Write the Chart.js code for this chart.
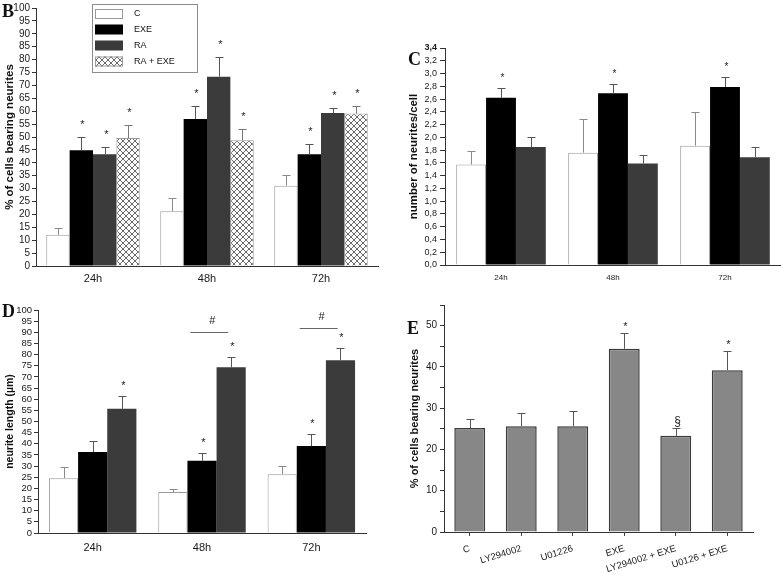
<!DOCTYPE html>
<html>
<head>
<meta charset="utf-8">
<script src="https://cdn.jsdelivr.net/npm/chart.js@4/dist/chart.umd.min.js"></script>
<style>
html,body{margin:0;padding:0;background:#fff;}
#wrap{position:relative;width:781px;height:574px;overflow:hidden;background:#fff;}
canvas{position:absolute;}
.pl{position:absolute;font-family:"Liberation Serif","Times New Roman",serif;font-weight:bold;font-size:18px;line-height:18px;color:#111;}
</style>
</head>
<body>
<div id="wrap">
  <canvas id="cB" style="left:0;top:0" width="390" height="290"></canvas>
  <canvas id="cC" style="left:390px;top:0" width="391" height="290"></canvas>
  <canvas id="cD" style="left:0;top:290px" width="390" height="284"></canvas>
  <canvas id="cE" style="left:390px;top:290px" width="391" height="284"></canvas>
  <div class="pl" style="left:2px;top:2px">B</div>
  <div class="pl" style="left:408px;top:50px">C</div>
  <div class="pl" style="left:2px;top:302px">D</div>
  <div class="pl" style="left:407px;top:319px">E</div>
</div>
<script>
// ---------------- DATA ----------------
// Panel B: % of cells bearing neurites
const bCategories = ['24h', '48h', '72h'];
const bSeriesNames = ['C', 'EXE', 'RA', 'RA + EXE'];
const bC = [12.1, 21.2, 31.1];
const bCErr = [2.7, 5.0, 4.1];
const bEXE = [44.9, 57.0, 43.3];
const bEXEErr = [5.0, 5.1, 3.8];
const bRA = [43.3, 73.4, 59.3];
const bRAErr = [3.0, 7.7, 2.1];
const bRAEXE = [49.6, 48.7, 59.1];
const bRAEXEErr = [5.2, 4.4, 3.0];
const bCMarks = ['', '', ''];
const bEXEMarks = ['*', '*', '*'];
const bRAMarks = ['*', '*', '*'];
const bRAEXEMarks = ['*', '*', '*'];
const bYMax = 100, bYStep = 5;

// Panel C: number of neurites/cell
const cCategories = ['24h', '48h', '72h'];
const cC = [1.575, 1.76, 1.87];
const cCErr = [0.215, 0.52, 0.52];
const cEXE = [2.62, 2.69, 2.79];
const cEXEErr = [0.16, 0.14, 0.15];
const cRA = [1.85, 1.59, 1.69];
const cRAErr = [0.16, 0.14, 0.16];
const cCMarks = ['', '', ''];
const cEXEMarks = ['*', '*', '*'];
const cRAMarks = ['', '', ''];
const cYMax = 3.4, cYStep = 0.2;

// Panel D: neurite length (µm)
const dCategories = ['24h', '48h', '72h'];
const dC = [24.6, 18.4, 26.4];
const dCErr = [5.0, 1.3, 3.6];
const dEXE = [36.3, 32.4, 39.0];
const dEXEErr = [4.9, 3.4, 5.3];
const dRA = [55.7, 74.3, 77.5];
const dRAErr = [5.6, 4.8, 5.6];
const dCMarks = ['', '', ''];
const dEXEMarks = ['', '*', '*'];
const dRAMarks = ['*', '*', '*'];
const dHashLevel = [null, 90.3, 91.8];
const dHashText = ['', '#', '#'];
const dYMax = 100, dYStep = 5;

// Panel E: % of cells bearing neurites (inhibitors)
const eCategories = ['C', 'LY294002', 'U01226', 'EXE', 'LY294002 + EXE', 'U0126 + EXE'];
const eValues = [25.2, 25.6, 25.6, 44.4, 23.3, 39.2];
const eErr = [2.2, 3.2, 3.6, 3.8, 1.8, 4.6];
const eMarks = ['', '', '', '*', '§', '*'];
const eYMax = 55, eYStep = 5, eYLabelEvery = 10;

// ---------------- STYLE / HELPERS ----------------
const FF = '"Liberation Sans", Arial, Helvetica, sans-serif';
Chart.defaults.font.family = FF;
Chart.defaults.color = '#111';

function hatch() {
  const s = 6;
  const c = document.createElement('canvas');
  c.width = s; c.height = s;
  const g = c.getContext('2d');
  g.fillStyle = '#fff'; g.fillRect(0, 0, s, s);
  g.strokeStyle = '#6a6a6a'; g.lineWidth = 1;
  g.beginPath();
  g.moveTo(-1, -1); g.lineTo(s + 1, s + 1);
  g.moveTo(s + 1, -1); g.lineTo(-1, s + 1);
  g.stroke();
  return g.createPattern(c, 'repeat');
}
const HATCH = hatch();

const errPlugin = {
  id: 'err',
  afterDatasetsDraw(chart, args, opts) {
    const ctx = chart.ctx, y = chart.scales.y;
    chart.data.datasets.forEach((ds, i) => {
      const meta = chart.getDatasetMeta(i);
      meta.data.forEach((bar, j) => {
        const v = ds.data[j];
        const e = ds.errors ? ds.errors[j] : 0;
        const top = Math.round(y.getPixelForValue(v + e));
        const x = Math.round(bar.x);
        ctx.save();
        ctx.strokeStyle = ds.errColor || '#555';
        ctx.lineWidth = 1;
        ctx.beginPath();
        ctx.moveTo(x + 0.5, bar.y);
        ctx.lineTo(x + 0.5, top);
        ctx.moveTo(x - opts.cap / 2, top + 0.5);
        ctx.lineTo(x + opts.cap / 2 + 1, top + 0.5);
        ctx.stroke();
        const m = ds.marks ? ds.marks[j] : '';
        if (m) {
          const fs = m === '*' ? opts.markFont : opts.symFont;
          const gap = m === '*' ? opts.markGap : opts.symGap;
          const cy = m === '*' ? 0.575 : 0.3;
          ctx.fillStyle = '#222';
          ctx.font = fs + 'px ' + FF;
          ctx.textAlign = 'center';
          ctx.textBaseline = 'alphabetic';
          ctx.fillText(m, x + 1.5, top - gap + cy * fs);
        }
        ctx.restore();
      });
    });
  }
};

const boxLegendPlugin = {
  id: 'boxLegend',
  afterDraw(chart, args, o) {
    if (!o || !o.show) return;
    const ctx = chart.ctx;
    ctx.save();
    ctx.strokeStyle = '#8c8c8c'; ctx.lineWidth = 1;
    ctx.strokeRect(o.x + 0.5, o.y + 0.5, o.w, o.h);
    chart.data.datasets.forEach((ds, i) => {
      const cy = o.rows[i];
      ctx.fillStyle = ds.backgroundColor;
      ctx.fillRect(o.sx, cy - 5, o.sw, 10);
      if (ds.borderWidth) {
        ctx.strokeStyle = ds.borderColor; ctx.lineWidth = 1;
        ctx.strokeRect(o.sx + 0.5, cy - 5 + 0.5, o.sw - 1, 9);
      }
      ctx.fillStyle = '#111';
      ctx.font = o.font + 'px ' + FF;
      ctx.textAlign = 'left'; ctx.textBaseline = 'middle';
      ctx.fillText(ds.label, o.tx, cy);
    });
    ctx.restore();
  }
};

const hashPlugin = {
  id: 'hash',
  afterDatasetsDraw(chart, args, o) {
    if (!o || !o.levels) return;
    const ctx = chart.ctx, y = chart.scales.y;
    const m1 = chart.getDatasetMeta(1), m2 = chart.getDatasetMeta(2);
    o.levels.forEach((lv, j) => {
      if (lv === null) return;
      const b1 = m1.data[j], b2 = m2.data[j];
      const x1 = b1.x - 0.4 * b1.width, x2 = b2.x - 0.1 * b2.width;
      const py = Math.round(y.getPixelForValue(lv)) + 0.5;
      ctx.save();
      ctx.strokeStyle = '#666'; ctx.lineWidth = 1;
      ctx.beginPath(); ctx.moveTo(x1, py); ctx.lineTo(x2, py); ctx.stroke();
      ctx.fillStyle = '#222';
      ctx.font = '11px ' + FF;
      ctx.textAlign = 'center'; ctx.textBaseline = 'alphabetic';
      ctx.fillText(o.texts[j], (x1 + x2) / 2 + 3, py - 9);
      ctx.restore();
    });
  }
};

function yScale(max, step, fontSize, yWidth, title, titleSize, titlePad, tickPad, tickLen, cb, boldTop) {
  return {
    min: 0, max: max,
    ticks: {
      stepSize: step, autoSkip: false, padding: tickPad, color: '#1a1a1a',
      font: (c) => ({ family: FF, size: fontSize, weight: (boldTop && c.tick && Math.abs(c.tick.value - max) < 1e-6) ? 'bold' : 'normal' }),
      callback: cb
    },
    grid: { drawOnChartArea: false, drawTicks: true, tickLength: tickLen, color: '#333' },
    border: { display: true, color: '#333', width: 1 },
    title: { display: true, text: title, color: '#111', font: { family: FF, size: titleSize, weight: 'bold' }, padding: { top: titlePad, bottom: 0 } },
    afterFit: (s) => { s.width = yWidth; }
  };
}
function xScale(fontSize, pad, height) {
  return {
    grid: { display: true, drawOnChartArea: false, drawTicks: false, color: '#333' },
    border: { display: true, color: '#333', width: 1 },
    ticks: { font: { family: FF, size: fontSize }, color: '#1a1a1a', padding: pad, maxRotation: 0, minRotation: 0, autoSkip: false },
    afterFit: (sc) => { sc.height = height; }
  };
}
function baseOpts(pad, catPct, barPct) {
  return {
    responsive: false, animation: false, devicePixelRatio: 1,
    layout: { padding: pad },
    datasets: { bar: { categoryPercentage: catPct, barPercentage: barPct, borderSkipped: 'start' } },
    plugins: { legend: { display: false }, tooltip: { enabled: false } }
  };
}

// ---------------- PANEL B ----------------
(function () {
  const o = baseOpts({ left: 0, top: 6, right: 12, bottom: 0 }, 0.82, 1);
  o.plugins.err = { cap: 7, markGap: 15, markFont: 11, symFont: 12, symGap: 7 };
  o.plugins.boxLegend = { show: true, x: 92, y: 4, w: 105, h: 68, sx: 95, sw: 28, tx: 134, rows: [14, 29.5, 45.5, 61.5], font: 9 };
  o.scales = {
    x: xScale(11, 6, 24),
    y: yScale(bYMax, bYStep, 10, 36, '% of cells bearing neurites', 11.5, 3, 2, 4, (v) => String(v), false)
  };
  new Chart(document.getElementById('cB'), {
    type: 'bar',
    data: {
      labels: bCategories,
      datasets: [
        { label: bSeriesNames[0], data: bC, errors: bCErr, marks: bCMarks, backgroundColor: '#ffffff', borderColor: '#9a9a9a', borderWidth: 1, errColor: '#8a8a8a' },
        { label: bSeriesNames[1], data: bEXE, errors: bEXEErr, marks: bEXEMarks, backgroundColor: '#000000', borderColor: '#000000', borderWidth: 0, errColor: '#555' },
        { label: bSeriesNames[2], data: bRA, errors: bRAErr, marks: bRAMarks, backgroundColor: '#3b3b3b', borderColor: '#3b3b3b', borderWidth: 0, errColor: '#555' },
        { label: bSeriesNames[3], data: bRAEXE, errors: bRAEXEErr, marks: bRAEXEMarks, backgroundColor: HATCH, borderColor: '#9a9a9a', borderWidth: 1, errColor: '#777' }
      ]
    },
    options: o,
    plugins: [errPlugin, boxLegendPlugin]
  });
})();

// ---------------- PANEL C ----------------
(function () {
  const o = baseOpts({ left: 0, top: 48, right: 0, bottom: 0 }, 0.8, 1);
  o.plugins.err = { cap: 7, markGap: 13, markFont: 10, symFont: 12, symGap: 7 };
  o.scales = {
    x: xScale(8, 8, 25),
    y: yScale(cYMax, cYStep, 9, 55, 'number of neurites/cell', 11.4, 17, 3, 5, (v) => Number(v).toFixed(1).replace('.', ','), true)
  };
  new Chart(document.getElementById('cC'), {
    type: 'bar',
    data: {
      labels: cCategories,
      datasets: [
        { label: 'C', data: cC, errors: cCErr, marks: cCMarks, backgroundColor: '#ffffff', borderColor: '#9a9a9a', borderWidth: 1, errColor: '#8a8a8a' },
        { label: 'EXE', data: cEXE, errors: cEXEErr, marks: cEXEMarks, backgroundColor: '#000000', borderWidth: 0, errColor: '#555' },
        { label: 'RA', data: cRA, errors: cRAErr, marks: cRAMarks, backgroundColor: '#3b3b3b', borderWidth: 0, errColor: '#555' }
      ]
    },
    options: o,
    plugins: [errPlugin]
  });
})();

// ---------------- PANEL D ----------------
(function () {
  const o = baseOpts({ left: 0, top: 20, right: 24, bottom: 0 }, 0.8, 1);
  o.plugins.err = { cap: 7, markGap: 13, markFont: 11, symFont: 12, symGap: 7 };
  o.plugins.hash = { levels: dHashLevel, texts: dHashText };
  o.scales = {
    x: xScale(11, 8.5, 41),
    y: yScale(dYMax, dYStep, 9.5, 38, 'neurite length (µm)', 10.5, 4, 2, 4, (v) => String(v), false)
  };
  new Chart(document.getElementById('cD'), {
    type: 'bar',
    data: {
      labels: dCategories,
      datasets: [
        { label: 'C', data: dC, errors: dCErr, marks: dCMarks, backgroundColor: '#ffffff', borderColor: '#9a9a9a', borderWidth: 1, errColor: '#8a8a8a' },
        { label: 'EXE', data: dEXE, errors: dEXEErr, marks: dEXEMarks, backgroundColor: '#000000', borderWidth: 0, errColor: '#555' },
        { label: 'RA', data: dRA, errors: dRAErr, marks: dRAMarks, backgroundColor: '#3b3b3b', borderWidth: 0, errColor: '#555' }
      ]
    },
    options: o,
    plugins: [errPlugin, hashPlugin]
  });
})();

// ---------------- PANEL E ----------------
(function () {
  const o = baseOpts({ left: 0, top: 15, right: 28, bottom: 0 }, 1, 0.6);
  o.plugins.err = { cap: 7, markGap: 9.5, markFont: 11, symFont: 12, symGap: 6.5 };
  const xs = xScale(9.5, 7, 42);
  xs.grid = { display: true, drawOnChartArea: false, drawTicks: true, tickLength: 4, offset: false, color: '#444' };
  xs.ticks.minRotation = 17; xs.ticks.maxRotation = 17;
  o.scales = {
    x: xs,
    y: yScale(eYMax, eYStep, 10, 54, '% of cells bearing neurites', 11, 18.4, 3, 4, (v) => (v % eYLabelEvery === 0 ? String(v) : ''), false)
  };
  new Chart(document.getElementById('cE'), {
    type: 'bar',
    data: {
      labels: eCategories,
      datasets: [
        { label: '% of cells bearing neurites', data: eValues, errors: eErr, marks: eMarks, backgroundColor: '#878787', borderColor: '#3a3a3a', borderWidth: 1.5, errColor: '#555' }
      ]
    },
    options: o,
    plugins: [errPlugin]
  });
})();
</script>
</body>
</html>
